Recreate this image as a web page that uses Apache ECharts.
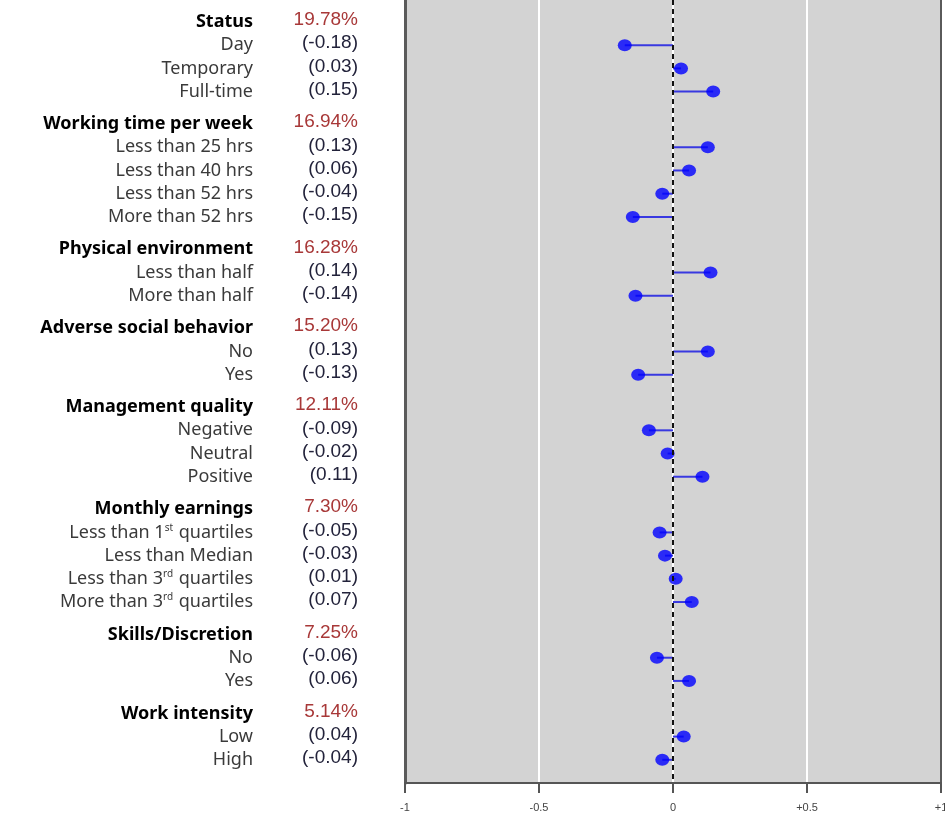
<!DOCTYPE html>
<html>
<head>
<meta charset="utf-8">
<script src="https://cdn.jsdelivr.net/npm/echarts@6/dist/echarts.min.js"></script>
<style>html,body{margin:0;padding:0;background:#fff}#c{width:945px;height:816px}</style>
</head>
<body>
<div id="c"></div>
<script>
// ---- data ----
const groups = ['Status', 'Working time per week', 'Physical environment', 'Adverse social behavior',
  'Management quality', 'Monthly earnings', 'Skills/Discretion', 'Work intensity'];
const groupShares = ['19.78%', '16.94%', '16.28%', '15.20%', '12.11%', '7.30%', '7.25%', '5.14%'];
const levels = [
  ['Day', 'Temporary', 'Full-time'],
  ['Less than 25 hrs', 'Less than 40 hrs', 'Less than 52 hrs', 'More than 52 hrs'],
  ['Less than half', 'More than half'],
  ['No', 'Yes'],
  ['Negative', 'Neutral', 'Positive'],
  ['Less than 1{sup|st} quartiles', 'Less than Median', 'Less than 3{sup|rd} quartiles', 'More than 3{sup|rd} quartiles'],
  ['No', 'Yes'],
  ['Low', 'High']
];
const effects = [
  [-0.18, 0.03, 0.15],
  [0.13, 0.06, -0.04, -0.15],
  [0.14, -0.14],
  [0.13, -0.13],
  [-0.09, -0.02, 0.11],
  [-0.05, -0.03, 0.01, 0.07],
  [-0.06, 0.06],
  [0.04, -0.04]
];
const xTicks = ['-1', '-0.5', '0', '+0.5', '+1'];

// ---- layout of rows (row index with extra gap before each group header) ----
const GAP = 0.4;
const rowPos = [], nameMap = {}, valMap = {}, points = [];
let pos = 0;
groups.forEach((g, gi) => {
  if (gi > 0) pos += GAP;
  const key = pos.toFixed(3);
  rowPos.push(pos); nameMap[key] = '{h|' + g + '}'; valMap[key] = '{r|' + groupShares[gi] + '}';
  pos += 1;
  levels[gi].forEach((lv, li) => {
    const k = pos.toFixed(3);
    rowPos.push(pos);
    let s = '{n|' + lv.replace(/\{sup\|([^}]*)\}/g, '}{sup|$1}{n|') + '}';
    nameMap[k] = s.replace(/\{n\|\}/g, '');
    const v = effects[gi][li];
    valMap[k] = '{v|(' + v.toFixed(2) + ')}';
    points.push([v, pos]);
    pos += 1;
  });
});

const yMin = -0.948, yMax = 32.80;
const baseY = { type: 'value', inverse: true, min: yMin, max: yMax, splitLine: { show: false }, axisTick: { show: false } };

const chart = echarts.init(document.getElementById('c'), null, { renderer: 'canvas' });
chart.setOption({
  animation: false,
  backgroundColor: '#ffffff',
  grid: { left: 405, right: 4, top: 0, bottom: 33, show: true, backgroundColor: '#d3d3d3', borderWidth: 0,
    containLabel: false, outerBoundsMode: 'none' },
  xAxis: {
    type: 'value', min: -1, max: 1, interval: 0.5, position: 'bottom',
    axisLine: { show: true, onZero: false, lineStyle: { color: '#555', width: 2 } },
    axisTick: { show: true, length: 10, lineStyle: { color: '#555', width: 2 } },
    splitLine: { show: true, lineStyle: { color: '#ffffff', width: 2 } },
    axisLabel: { margin: 19, fontSize: 11, color: '#444', fontFamily: 'Liberation Sans',
      formatter: v => xTicks[Math.round((v + 1) / 0.5)] }
  },
  yAxis: [
    Object.assign({}, baseY, {
      position: 'left',
      axisLine: { show: true, onZero: false, lineStyle: { color: '#5a5a5a', width: 3 } },
      axisLabel: {
        customValues: rowPos, margin: 152, align: 'right',
        formatter: v => nameMap[v.toFixed(3)] || '',
        rich: {
          h: { fontFamily: 'Noto Sans', fontSize: 18, fontWeight: 'bold', color: '#000' },
          n: { fontFamily: 'Noto Sans', fontSize: 18, color: '#3a3a3a' },
          sup: { fontFamily: 'Noto Sans', fontSize: 10, color: '#3a3a3a', verticalAlign: 'top', padding: [0, 1, 9, 0] }
        }
      }
    }),
    Object.assign({}, baseY, {
      position: 'left',
      axisLine: { show: false, onZero: false },
      axisLabel: {
        customValues: rowPos, margin: 47, align: 'right', padding: [0, 0, 4, 0],
        formatter: v => valMap[v.toFixed(3)] || '',
        rich: {
          r: { fontFamily: 'Liberation Sans', fontSize: 19, color: '#a83838' },
          v: { fontFamily: 'Liberation Sans', fontSize: 19, color: '#22223a' }
        }
      }
    }),
    Object.assign({}, baseY, {
      position: 'right',
      axisLine: { show: true, onZero: false, lineStyle: { color: '#5a5a5a', width: 2 } },
      axisLabel: { show: false }
    })
  ],
  series: [
    {
      type: 'custom',
      yAxisIndex: 0,
      data: points,
      renderItem: (params, api) => {
        const a = api.coord([0, api.value(1)]);
        const b = api.coord([api.value(0), api.value(1)]);
        return { type: 'line', shape: { x1: a[0], y1: a[1], x2: b[0], y2: b[1] },
          style: { stroke: '#3838e0', lineWidth: 2 } };
      },
      markLine: {
        silent: true, symbol: 'none', label: { show: false },
        lineStyle: { color: '#111', type: [5, 4], width: 2 },
        data: [{ xAxis: 0 }]
      },
      z: 2
    },
    {
      type: 'scatter',
      yAxisIndex: 0,
      data: points,
      symbol: 'circle',
      symbolSize: [14, 12],
      itemStyle: { color: '#0000ff' },
      z: 3
    }
  ]
});
</script>
</body>
</html>
